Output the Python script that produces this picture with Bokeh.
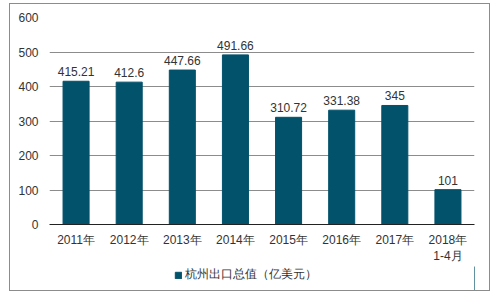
from bokeh.plotting import figure
from bokeh.layouts import column
from bokeh.models import ColumnDataSource, LabelSet, Legend, LegendItem, Range1d
from bokeh.core.properties import value
from bokeh.embed import file_html
from bokeh.resources import INLINE

categories = ["2011年", "2012年", "2013年", "2014年", "2015年", "2016年", "2017年", "2018年\n1-4月"]
values = [415.21, 412.6, 447.66, 491.66, 310.72, 331.38, 345, 101]
labels = ["415.21", "412.6", "447.66", "491.66", "310.72", "331.38", "345", "101"]
series_name = "杭州出口总值（亿美元）"

FONT = "Liberation Sans"
COLOR = "#02526b"

src = ColumnDataSource(dict(cat=categories, val=values, lab=labels))

p = figure(x_range=categories, y_range=(0, 600), width=479, height=262,
           output_backend="svg", toolbar_location=None,
           min_border_left=39, min_border_right=15, min_border_top=13, min_border_bottom=38)
p.background_fill_color = "white"
p.border_fill_color = "white"
p.outline_line_color = None

r = p.vbar(x="cat", top="val", width=0.49, source=src, color=COLOR)

p.xgrid.grid_line_color = None
p.ygrid.grid_line_color = "#8c8c8c"
p.ygrid.grid_line_width = 1
p.yaxis.ticker = [0, 100, 200, 300, 400, 500, 600]
p.yaxis.axis_line_color = None
p.yaxis.major_tick_line_color = None
p.yaxis.minor_tick_line_color = None
p.yaxis.major_tick_out = 0
p.yaxis.major_label_standoff = 11
p.yaxis.major_label_text_font = FONT
p.yaxis.major_label_text_font_size = "12px"
p.yaxis.major_label_text_color = "#333333"

p.xaxis.axis_line_color = "#222222"
p.xaxis.major_tick_line_color = None
p.xaxis.minor_tick_line_color = None
p.xaxis.major_tick_out = 0
p.xaxis.major_label_standoff = 8
p.xaxis.major_label_text_font = FONT
p.xaxis.major_label_text_font_size = "12px"
p.xaxis.major_label_text_color = "#333333"
p.x_range.range_padding = 0

p.add_layout(LabelSet(x="cat", y="val", text="lab", source=src, text_align="center",
                      text_baseline="bottom", y_offset=5, text_font_size="12px",
                      text_font=value(FONT), text_color="#333333"))

# legend strip (its frame is aligned with the main frame by the column layout)
lf = figure(width=479, height=24, output_backend="svg", toolbar_location=None,
            x_axis_location=None, y_axis_location=None,
            x_range=Range1d(0, 1), y_range=Range1d(0, 1),
            min_border_left=0, min_border_right=0, min_border_top=0, min_border_bottom=0)
lf.outline_line_color = None
lf.xgrid.grid_line_color = None
lf.ygrid.grid_line_color = None
lr = lf.vbar(x=[5], top=[5], width=0.5, color=COLOR)
legend = Legend(items=[LegendItem(label=series_name, renderers=[lr])], orientation="horizontal",
                location=(125, 7), label_text_font=FONT, label_text_font_size="12px",
                label_text_color="#333333", glyph_width=8, glyph_height=8,
                label_height=12, label_width=20,
                border_line_color=None, background_fill_alpha=0, padding=1, margin=0,
                label_standoff=3)
lf.add_layout(legend)

layout = column(p, lf, spacing=0, width=479, height=286, sizing_mode="fixed")
layout.margin = (4, 10, 5, 10)
layout.styles = {"outline": "1px solid #8c8c8c", "outline-offset": "0px"}

open("out.html", "w").write(file_html(layout, INLINE))
